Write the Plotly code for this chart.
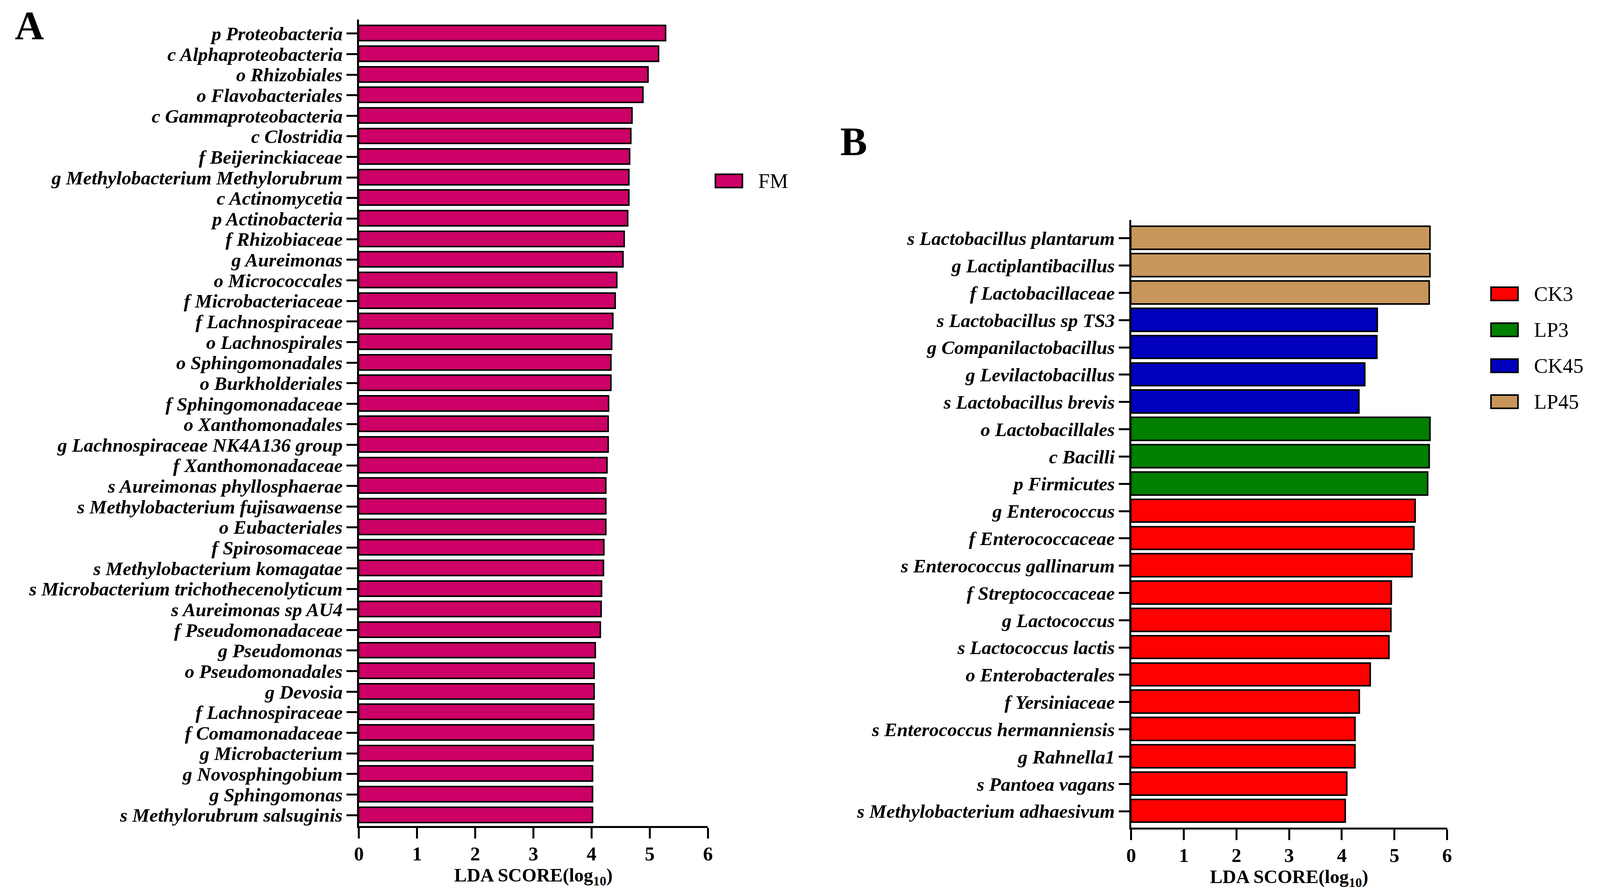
import plotly.graph_objects as go

# reference picture size; the page is laid out in fractions of it
W, H = 4237, 2288
# the viewport is a little narrower than the photo, so px sizes are scaled down
S = 0.966

# panel A: FM group
fm_taxa = [
    "p Proteobacteria", "c Alphaproteobacteria", "o Rhizobiales", "o Flavobacteriales",
    "c Gammaproteobacteria", "c Clostridia", "f Beijerinckiaceae",
    "g Methylobacterium Methylorubrum", "c Actinomycetia", "p Actinobacteria",
    "f Rhizobiaceae", "g Aureimonas", "o Micrococcales", "f Microbacteriaceae",
    "f Lachnospiraceae", "o Lachnospirales", "o Sphingomonadales", "o Burkholderiales",
    "f Sphingomonadaceae", "o Xanthomonadales", "g Lachnospiraceae NK4A136 group",
    "f Xanthomonadaceae", "s Aureimonas phyllosphaerae", "s Methylobacterium fujisawaense",
    "o Eubacteriales", "f Spirosomaceae", "s Methylobacterium komagatae",
    "s Microbacterium trichothecenolyticum", "s Aureimonas sp AU4", "f Pseudomonadaceae",
    "g Pseudomonas", "o Pseudomonadales", "g Devosia", "f Lachnospiraceae",
    "f Comamonadaceae", "g Microbacterium", "g Novosphingobium", "g Sphingomonas",
    "s Methylorubrum salsuginis",
]
fm_scores = [
    5.28, 5.16, 4.98, 4.89, 4.70, 4.68, 4.66, 4.65, 4.65, 4.63,
    4.57, 4.55, 4.44, 4.41, 4.37, 4.35, 4.34, 4.34, 4.30, 4.29,
    4.29, 4.27, 4.25, 4.25, 4.25, 4.22, 4.21, 4.18, 4.17, 4.16,
    4.07, 4.05, 4.05, 4.04, 4.04, 4.03, 4.02, 4.02, 4.02,
]
fm_color = "#CC0066"

# panel B: four groups
b_taxa = [
    "s Lactobacillus plantarum", "g Lactiplantibacillus", "f Lactobacillaceae",
    "s Lactobacillus sp TS3", "g Companilactobacillus", "g Levilactobacillus",
    "s Lactobacillus brevis", "o Lactobacillales", "c Bacilli", "p Firmicutes",
    "g Enterococcus", "f Enterococcaceae", "s Enterococcus gallinarum",
    "f Streptococcaceae", "g Lactococcus", "s Lactococcus lactis",
    "o Enterobacterales", "f Yersiniaceae", "s Enterococcus hermanniensis",
    "g Rahnella1", "s Pantoea vagans", "s Methylobacterium adhaesivum",
]
b_scores = [
    5.68, 5.68, 5.67, 4.68, 4.67, 4.44, 4.33, 5.68, 5.67, 5.64,
    5.40, 5.38, 5.34, 4.95, 4.94, 4.90, 4.55, 4.34, 4.26, 4.26,
    4.10, 4.07,
]
b_groups = ["LP45"] * 3 + ["CK45"] * 4 + ["LP3"] * 3 + ["CK3"] * 12
group_names = ["CK3", "LP3", "CK45", "LP45"]
group_colors = {"CK3": "#FF0000", "LP3": "#007F00", "CK45": "#0000BE", "LP45": "#C8965A"}

FONT = "Liberation Serif"


def px_x(v):
    return v / W


def px_y(v):
    return 1 - v / H


def sz(v):
    return round(v * S, 1)


fig = go.Figure()
fig.add_trace(go.Bar(
    x=fm_scores, y=list(range(len(fm_taxa))), orientation="h", width=0.74,
    marker=dict(color=fm_color, line=dict(color="black", width=sz(4))),
    xaxis="x", yaxis="y", showlegend=False,
))
fig.add_trace(go.Bar(
    x=b_scores, y=list(range(len(b_taxa))), orientation="h", width=0.84,
    marker=dict(color=[group_colors[g] for g in b_groups], line=dict(color="black", width=sz(4))),
    xaxis="x2", yaxis="y2", showlegend=False,
))

tick_font = dict(family=FONT, size=sz(51), color="black", weight="bold", style="italic")
num_font = dict(family=FONT, size=sz(52), color="black", weight="bold")
common_x = dict(
    range=[0, 6], dtick=1, tick0=0, ticks="outside", ticklen=sz(28), tickwidth=sz(5),
    tickcolor="black", showline=True, linewidth=sz(5), linecolor="black",
    showgrid=False, zeroline=False, tickfont=num_font, ticklabelstandoff=-4,
    title=dict(text="LDA SCORE(log<sub>10</sub>)", standoff=0,
               font=dict(family=FONT, size=sz(50), color="black", weight="bold")),
)
common_y = dict(
    ticks="outside", ticklen=sz(28), tickwidth=sz(5), tickcolor="black", showline=True,
    linewidth=sz(5), linecolor="black", showgrid=False, zeroline=False, tickfont=tick_font,
)

fig.update_layout(
    autosize=True, margin=dict(l=0, r=0, t=0, b=0),
    paper_bgcolor="white", plot_bgcolor="white", bargap=0,
    xaxis=dict(domain=[px_x(943), px_x(1873)], anchor="y", **common_x),
    yaxis=dict(domain=[px_y(2114), px_y(50)], anchor="x", range=[38.53, -0.68],
               tickvals=list(range(len(fm_taxa))), ticktext=fm_taxa, **common_y),
    xaxis2=dict(domain=[px_x(3001), px_x(3843)], anchor="y2", **common_x),
    yaxis2=dict(domain=[px_y(2118), px_y(563)], anchor="x2", range=[21.6, -0.67],
                tickvals=list(range(len(b_taxa))), ticktext=b_taxa, **common_y),
)

# panel letters
for letter, cx, cy in [("A", 65, 66), ("B", 2262, 362)]:
    fig.add_annotation(text=letter, x=px_x(cx), y=px_y(cy), xref="paper", yref="paper",
                       xanchor="center", yanchor="middle", showarrow=False,
                       font=dict(family=FONT, size=sz(107), color="black", weight="bold"))

# legends drawn by hand so the swatches keep the reference size
legend_items = [("FM", fm_color, 1893, 463)]
for i, name in enumerate(group_names):
    legend_items.append((name, group_colors[name], 3960, 752 + 92 * i))

for name, color, sx, cy in legend_items:
    fig.add_shape(type="rect", xref="paper", yref="paper",
                  x0=px_x(sx), x1=px_x(sx + 72), y0=px_y(cy + 17), y1=px_y(cy - 17),
                  fillcolor=color, line=dict(color="black", width=sz(4)))
    fig.add_annotation(text=name, x=px_x(sx + 112), y=px_y(cy), xref="paper", yref="paper",
                       xanchor="left", yanchor="middle", showarrow=False,
                       font=dict(family=FONT, size=sz(55), color="black"))

fig.write_html(
    "out.html",
    config={"displayModeBar": False, "responsive": True},
    default_width="100vw", default_height="100vh",
    post_script=(
        "document.body.style.margin='0';"
        "document.body.style.overflow='hidden';"
        "Plotly.Plots.resize(document.getElementById('{plot_id}'));"
    ),
)
